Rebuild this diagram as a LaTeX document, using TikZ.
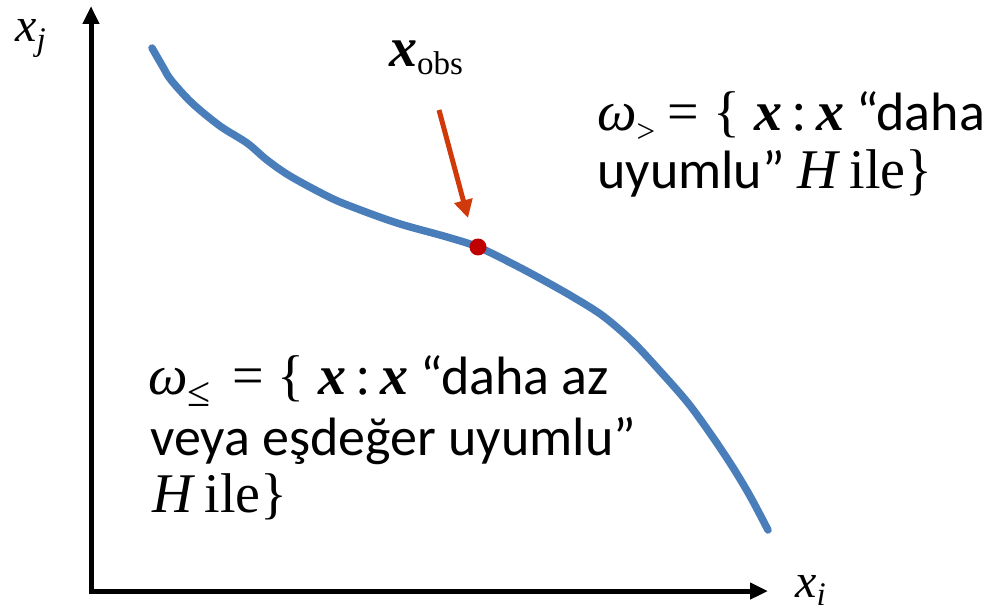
\documentclass[tikz,border=0pt]{standalone}
\usepackage{fontspec}
\setmainfont{Carlito}
\newfontfamily\tms{Liberation Serif}
\usetikzlibrary{arrows.meta}
\definecolor{curveblue}{HTML}{4A7EBB}
\definecolor{arrowred}{HTML}{D03A0A}
\definecolor{dotred}{HTML}{C00000}
\newcommand\bx{{\fontsize{56}{60}\selectfont\tms\bfseries\itshape x}}
\newcommand\srf[1]{{\fontsize{56}{60}\selectfont\tms #1}}
\newcommand\subsc[2]{\raisebox{-12pt}{\fontsize{#1}{#1}\selectfont\tms #2}}
\tikzset{
  axis/.style={line width=5pt, line join=miter, {Triangle[width=16pt,length=18pt]}-{Triangle[width=16pt,length=18pt]}},
  txt/.style={anchor=base west, inner sep=0pt, font=\fontsize{54}{58}\selectfont},
  lbl/.style={anchor=base west, inner sep=0pt, font=\fontsize{48}{50}\selectfont\tms\itshape},
  curve/.style={line width=7.5pt, curveblue, line cap=round, line join=round},
  pointer/.style={line width=5pt, arrowred, -{Triangle[width=18pt,length=18pt]}}
}
\begin{document}
\begin{tikzpicture}[x=1pt,y=-1pt]
\useasboundingbox (0,0) rectangle (1003,612);
% axes
\coordinate (ytop) at (91,6);
\coordinate (orig) at (91,591);
\coordinate (xend) at (768,591);
\draw[axis] (ytop) -- (orig) -- (xend);
\node[lbl] (xj) at (15,42) {x\raisebox{-9pt}{\fontsize{33}{33}\selectfont j}};
\node[lbl] (xi) at (795,597) {x\raisebox{-8pt}{\fontsize{33}{33}\selectfont i}};
% curve
\draw[curve] plot[smooth, tension=0.55] coordinates {
 (152,48) (163,67) (171,80) (192,103) (220,126) (247,143) (267,160)
 (290,176) (327,196) (350,206) (397,223) (447,237) (478,247)
 (513,264) (543,280) (573,297) (603,316) (632,341) (660,371)
 (688,403) (712,436) (732,466) (750,496) (768,530)};
\node[circle, fill=dotred, inner sep=0pt, minimum size=17pt] (obs) at (478,247) {};
% pointer arrow
\coordinate (atail) at (439,110);
\coordinate (ahead) at (468,218);
\draw[pointer] (atail) -- (ahead);
\node[anchor=base west, inner sep=0pt] (xobs) at (389,67)
  {\fontsize{50}{52}\selectfont\bx\raisebox{-8pt}{\fontsize{33}{33}\selectfont\tms obs}};
% upper right set
\node[txt] (up1) at (597,131) {\srf{\itshape ω}\subsc{33}{>} \srf{= \{ }\bx\srf{\,:\,}\bx\ “daha};
\node[txt] (up2) at (597,189) {uyumlu” \srf{\itshape H} \srf{ile\}}};
% lower left set
\node[txt] (lo1) at (148,394) {\srf{\itshape ω}\subsc{42}{≤}\, \srf{= \{ }\bx\srf{\,:\,}\bx\ “daha az};
\node[txt] (lo2) at (150,455) {veya eşdeğer uyumlu”};
\node[txt] (lo3) at (152,512) {\srf{\itshape H} \srf{ile\}}};
\end{tikzpicture}
\end{document}
